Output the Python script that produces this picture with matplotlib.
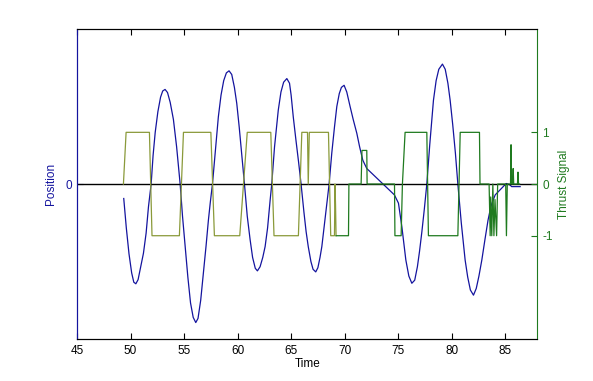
import matplotlib
matplotlib.use('Agg')
import matplotlib.pyplot as plt

plt.rcParams['font.family'] = ['Liberation Sans', 'DejaVu Sans']
plt.rcParams['axes.unicode_minus'] = False

# position trace
pos_t = [49.36, 49.6, 49.85, 50.1, 50.3, 50.49, 50.7, 50.95, 51.2, 51.45, 51.67, 51.92,
         52.1, 52.3, 52.55, 52.8, 53.0, 53.22, 53.45, 53.7, 54.0, 54.3, 54.63,
         54.85, 55.1, 55.35, 55.6, 55.85, 56.09, 56.3, 56.55, 56.8, 57.05, 57.27, 57.45, 57.65,
         57.9, 58.2, 58.45, 58.7, 58.95, 59.2, 59.45, 59.7, 59.92, 60.15, 60.4, 60.64,
         60.9, 61.17, 61.4, 61.65, 61.85, 62.1, 62.35, 62.57, 62.8, 63.04, 63.19,
         63.45, 63.8, 64.05, 64.3, 64.6, 64.85, 65.0, 65.2, 65.45, 65.7, 65.93,
         66.2, 66.4, 66.6, 66.85, 67.05, 67.3, 67.5, 67.7, 67.87, 68.1, 68.3, 68.55,
         68.8, 69.05, 69.27, 69.5, 69.7, 69.95, 70.2, 70.51, 70.8, 71.14, 71.4, 71.7, 72.07,
         74.65, 75.03, 75.35, 75.72, 76.0, 76.28, 76.55, 76.8, 77.0, 77.22, 77.45, 77.68,
         77.95, 78.3, 78.55, 78.8, 79.14, 79.4, 79.65, 79.86, 80.1, 80.35, 80.58,
         80.9, 81.26, 81.5, 81.75, 82.04, 82.3, 82.55, 82.82, 83.13, 83.4, 83.6, 83.75, 84.07,
         85.1, 85.47, 85.6, 86.4]
pos_v = [-0.28, -0.85, -1.35, -1.72, -1.90, -1.93, -1.85, -1.60, -1.34, -0.95, -0.44, 0.0,
         0.55, 1.00, 1.40, 1.68, 1.80, 1.83, 1.77, 1.58, 1.25, 0.72, 0.0,
         -0.62, -1.21, -1.80, -2.30, -2.58, -2.68, -2.60, -2.25, -1.73, -1.20, -0.70, -0.35, 0.0,
         0.60, 1.30, 1.72, 2.00, 2.15, 2.19, 2.12, 1.87, 1.56, 1.10, 0.55, 0.0,
         -0.62, -1.08, -1.42, -1.63, -1.68, -1.60, -1.42, -1.21, -0.85, -0.31, 0.0,
         0.72, 1.43, 1.78, 1.97, 2.04, 1.95, 1.72, 1.30, 0.85, 0.42, 0.0,
         -0.55, -0.92, -1.21, -1.50, -1.65, -1.70, -1.62, -1.42, -1.21, -0.80, -0.45, 0.0,
         0.60, 1.10, 1.50, 1.75, 1.87, 1.91, 1.78, 1.50, 1.25, 0.98, 0.72, 0.46, 0.30,
         -0.21, -0.37, -0.83, -1.47, -1.78, -1.92, -1.86, -1.60, -1.30, -0.92, -0.48, 0.0,
         0.75, 1.62, 2.00, 2.22, 2.32, 2.22, 1.95, 1.62, 1.15, 0.60, 0.0,
         -0.75, -1.47, -1.80, -2.05, -2.15, -2.02, -1.78, -1.47, -1.05, -0.70, -0.50, -0.38, -0.21,
         0.01, -0.02, -0.05, -0.05]

# thrust command, first part (olive)
thr1_t = [49.33, 49.58, 51.76, 52.0, 54.56, 54.94, 57.5, 57.83, 60.2, 60.9, 63.1, 63.4, 65.68, 66.0,
          66.53, 66.6, 66.7, 68.49, 68.7, 69.05, 69.1, 69.15, 69.2]
thr1_v = [0, 1, 1, -1, -1, 1, 1, -1, -1, 1, 1, -1, -1, 1,
          1, 0, 1, 1, -1, -1, 0, -0.4, -1]

# thrust command, second part (dark green)
thr2_t = [69.2, 70.36, 70.4, 71.54, 71.62, 72.07, 72.1, 74.66, 74.7, 75.28, 75.4, 75.65, 77.68, 77.83,
          80.58, 80.8, 82.6, 82.65, 83.5, 83.6, 83.65, 83.75, 83.85, 83.95, 84.05, 84.2, 84.3,
          85.05, 85.12, 85.2, 85.5, 85.55, 85.6, 85.7, 85.75, 85.8, 86.15, 86.2, 86.25, 86.35]
thr2_v = [-1, -1, 0, 0, 0.65, 0.65, 0, 0, -1, -1, 0, 1, 1, -1,
          -1, 1, 1, 0, 0, -1, -0.25, -1, 0, -1, -0.3, -1, 0,
          0, -1, 0, 0, 0.76, 0, 0, 0.3, 0, 0, 0.23, 0, 0]

xticks = [45, 50, 55, 60, 65, 70, 75, 80, 85]
thr_ticks = [-1, 0, 1]

blue = '#14149e'
green = '#1f7a1f'
olive = '#8a9a3a'

fig = plt.figure(figsize=(5.93, 3.81), dpi=100)
ax = fig.add_axes([0.13, 0.11, 0.776, 0.814])
ax2 = ax.twinx()

ax.plot(pos_t, pos_v, color=blue, linewidth=0.9)
ax.axhline(0, color='black', linewidth=1.0)
ax2.plot(thr1_t, thr1_v, color=olive, linewidth=0.9)
ax2.plot(thr2_t, thr2_v, color=green, linewidth=0.9)

ax.set_xlim(45, 88)
ax.set_ylim(-3, 3)
ax2.set_ylim(-3, 3)

ax.set_xticks(xticks)
ax.set_yticks([0])
ax2.set_yticks(thr_ticks)

ax.tick_params(axis='x', direction='in', top=True, labelsize=8.5, length=4, pad=4)
ax.tick_params(axis='y', direction='in', colors=blue, labelsize=8.5, length=4)
ax2.tick_params(axis='y', direction='in', colors=green, labelsize=8.5, length=4)

ax.spines['left'].set_color(blue)
ax2.spines['left'].set_color(blue)
ax2.spines['right'].set_color(green)
ax.spines['right'].set_visible(False)

ax.set_xlabel('Time', fontsize=8.5, labelpad=1)
ax.set_ylabel('Position', color=blue, fontsize=8.5, labelpad=6)
ax2.set_ylabel('Thrust Signal', color=green, fontsize=8.5, labelpad=4)

fig.savefig('out.png', dpi=100)
